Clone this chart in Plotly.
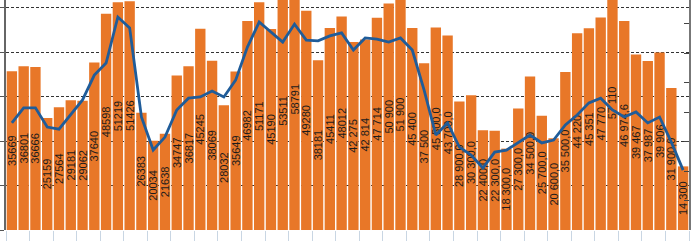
import plotly.graph_objects as go

categories = [str(i) for i in range(1, 59)]

bar_values = [35669, 36801, 36666, 25159, 27564, 29181, 29062, 37640, 48598, 51219,
              51426, 26383, 20034, 21638, 34747, 36817, 45245, 38069, 28032, 35649,
              46982, 51171, 45190, 53511, 58791, 49280, 38181, 45411, 48012, 42275,
              42814, 47714, 50900, 51900, 45400, 37500, 45500, 43700, 28900, 30300,
              22400, 22300, 18300, 27300, 34500, 25700, 20600, 35500, 44220, 45351,
              47770, 57110, 46974.6, 39467, 37987, 39906, 31900, 14300]

bar_labels = ["35669", "36801", "36666", "25159", "27564", "29181", "29062", "37640", "48598", "51219",
              "51426", "26383", "20034", "21638", "34747", "36817", "45245", "38069", "28032", "35649",
              "46982", "51171", "45190", "53511", "58791", "49280", "38181", "45411", "48012", "42 275",
              "42 814", "47 714", "50 900", "51 900", "45 400", "37 500", "45 500,0", "43 700,0", "28 900,0", "30 300,0",
              "22 400,0", "22 300,0", "18 300,0", "27 300,0", "34 500,0", "25 700,0", "20 600,0", "35 500,0", "44 220", "45 351",
              "47 770", "57 110", "46 974,6", "39 467", "37 987", "39 906", "31 900,0", "14 300"]

line_values = [36.3, 41.4, 41.4, 34.9, 34.2, 39.0, 44.1, 52.5, 56.6, 72.2,
               68.5, 38.3, 27.1, 31.5, 40.7, 44.7, 45.1, 47.1, 45.1, 50.8,
               62.0, 70.5, 67.1, 63.7, 69.8, 64.4, 64.1, 65.8, 66.8, 61.0,
               65.1, 64.7, 63.7, 65.1, 61.0, 47.5, 32.2, 36.3, 28.1, 25.4,
               21.0, 26.4, 27.1, 29.8, 32.2, 29.5, 30.5, 35.6, 39.0, 43.1,
               44.7, 40.7, 38.3, 40.0, 36.3, 38.3, 29.8, 20.3]

fig = go.Figure()
fig.add_trace(go.Bar(
    x=categories, y=bar_values, text=bar_labels,
    textposition="inside", insidetextanchor="middle", textangle=-90,
    constraintext="none", cliponaxis=True,
    textfont=dict(family="Liberation Sans", size=11, color="#1c1c1c"),
    marker=dict(color="#E87728", line=dict(width=0)),
    showlegend=False, hoverinfo="skip",
))
fig.add_trace(go.Scatter(
    x=categories, y=line_values, yaxis="y2", mode="lines",
    line=dict(color="#1F5C99", width=2.8), showlegend=False, hoverinfo="skip",
))

fig.update_layout(
    template="none",
    width=696, height=241,
    margin=dict(l=6, r=7, t=0, b=11, pad=0),
    paper_bgcolor="white", plot_bgcolor="white",
    bargap=0.12,
    xaxis=dict(
        type="category",
        range=[-0.5, 57.5], showticklabels=False, ticks="outside", ticklen=11,
        tickson="boundaries", tickcolor="#C9D6E3", tickwidth=1,
        showgrid=False, showline=False, zeroline=False, automargin=False,
    ),
    yaxis=dict(
        range=[0, 51700], dtick=10000, showticklabels=False, ticks="outside",
        ticklen=6, tickcolor="#555555", showline=True, linecolor="#666666", linewidth=1.5,
        showgrid=True, gridcolor="#333333", gridwidth=1, griddash="3px,2px",
        zeroline=False, automargin=False,
    ),
    yaxis2=dict(
        overlaying="y", side="right", range=[0, 77.97], dtick=10,
        showticklabels=False, ticks="inside", ticklen=5, tickcolor="#444444",
        showline=True, linecolor="#777777", linewidth=1.5, showgrid=False,
        zeroline=False, automargin=False,
    ),
)

fig.write_html("out.html", config={"displayModeBar": False},
               post_script="document.body.style.margin='0';document.body.style.overflow='hidden';")
